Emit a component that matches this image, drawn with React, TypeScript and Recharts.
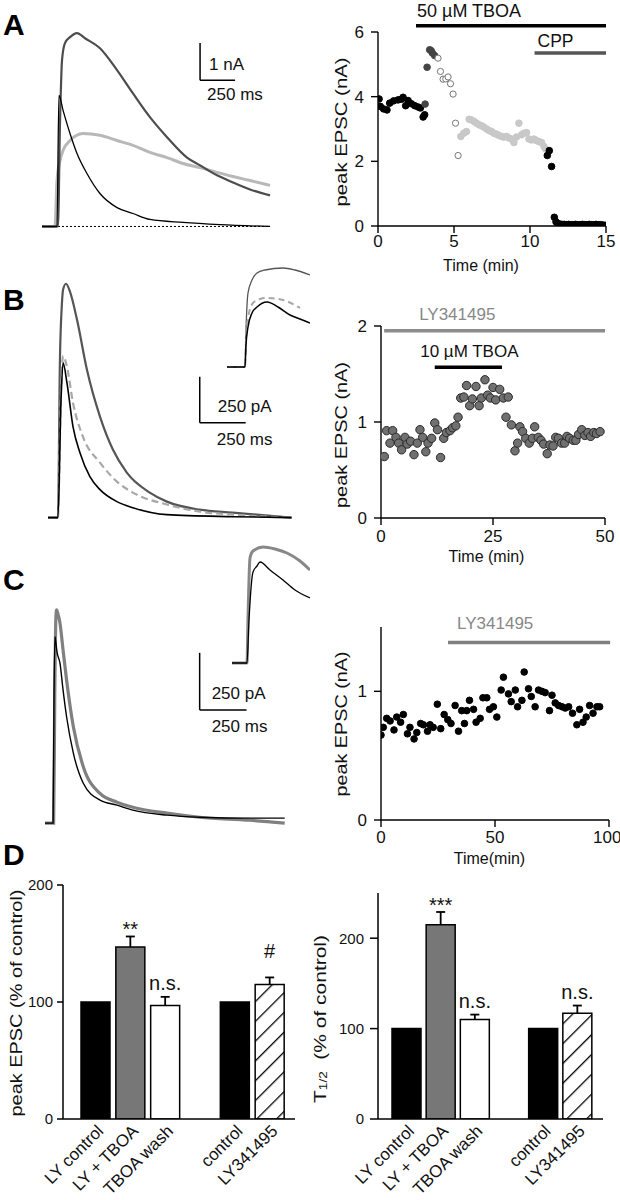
import React from 'react';
import {
  LineChart, Line, ScatterChart, Scatter, BarChart, Bar, Cell, XAxis, YAxis,
  ReferenceLine, Label, LabelList,
} from 'recharts';

const FONT = 'Arial, "Liberation Sans", Helvetica, sans-serif';
const INK = '#111';

// A: example EPSCs, [ms, nA]
const aControlTrace = [[0, 0], [107, 0], [121, 3.54], [150, 3.14], [200, 2.51], [250, 1.97], [321, 1.43], [414, 0.89], [536, 0.51], [650, 0.35], [771, 0.19], [1007, 0.11], [1271, 0.05], [1629, 0]];
const aTboaTrace = [[0, 0], [114, 0], [129, 2.86], [143, 4.49], [164, 4.95], [200, 5.11], [250, 5.22], [307, 5.08], [414, 4.81], [536, 4.22], [650, 3.59], [771, 2.95], [893, 2.41], [1036, 1.86], [1129, 1.65], [1250, 1.38], [1364, 1.19], [1486, 1.0], [1629, 0.84]];
const aLateTrace = [[0, 0], [93, 0], [107, 1.24], [129, 1.78], [150, 2.05], [200, 2.32], [293, 2.51], [414, 2.46], [536, 2.32], [650, 2.19], [771, 2.0], [893, 1.86], [1007, 1.7], [1129, 1.59], [1250, 1.46], [1364, 1.35], [1486, 1.24], [1629, 1.11]];

// A: time course, [min, nA]
const aBefore = [[0.07, 3.93], [0.15, 3.7], [0.37, 3.62], [0.59, 3.59], [0.77, 3.8], [1.03, 3.87], [1.32, 3.9], [1.54, 3.92], [1.65, 3.98], [1.82, 3.72], [1.98, 3.88], [2.2, 3.78], [2.42, 3.72], [2.64, 3.68], [2.79, 3.65], [2.97, 3.37], [3.07, 3.44]];
const aEarly = [[3.1, 3.77], [3.23, 4.91], [3.4, 5.45], [3.5, 5.42], [3.58, 5.35], [3.73, 5.27]];
const aOpen = [[3.95, 5.19], [4.11, 4.78], [4.28, 4.54], [4.46, 4.55], [4.61, 4.61], [4.77, 4.4], [4.94, 4.08], [5.1, 3.18], [5.27, 2.18]];
const aLate = [[5.45, 2.77], [5.64, 2.87], [5.82, 2.92], [6.0, 3.3], [6.15, 3.28], [6.33, 3.23], [6.48, 3.18], [6.65, 3.13], [6.81, 3.1], [6.96, 3.06], [7.14, 3.0], [7.31, 2.95], [7.47, 2.92], [7.62, 2.87], [7.8, 2.84], [7.95, 2.8], [8.13, 2.77], [8.28, 2.75], [8.46, 2.77], [8.61, 2.72], [8.79, 2.69], [8.94, 2.58], [9.11, 2.75], [9.27, 3.18], [9.44, 2.82], [9.6, 2.87], [9.77, 2.89], [9.93, 2.69], [10.1, 2.66], [10.26, 2.69], [10.43, 2.64], [10.59, 2.61], [10.76, 2.58], [10.92, 2.46], [11.03, 2.38]];
const aCpp = [[11.14, 2.18], [11.27, 2.33], [11.42, 1.84], [11.6, 0.27], [11.71, 0.13], [11.82, 0.08], [11.95, 0.06], [12.1, 0.05], [12.25, 0.05], [12.4, 0.04], [12.55, 0.05], [12.7, 0.04], [12.85, 0.04], [13.0, 0.05], [13.15, 0.04], [13.3, 0.04], [13.45, 0.05], [13.6, 0.04], [13.75, 0.04], [13.9, 0.05], [14.05, 0.04], [14.2, 0.04], [14.35, 0.05], [14.5, 0.04], [14.65, 0.04], [14.8, 0.03], [14.95, 0.02]];
const aDrugs = [{ name: '50 µM TBOA', from: 2.5, to: 15 }, { name: 'CPP', from: 10.3, to: 15 }];

// B: example EPSCs, [ms, pA]
const bControlTrace = [[0, 0], [54, 0], [71, 641], [82, 842], [103, 734], [136, 495], [174, 353], [228, 223], [283, 152], [375, 87], [462, 54], [647, 16], [1005, 5], [1326, 0]];
const bTboaTrace = [[0, 0], [54, 0], [65, 859], [76, 1168], [82, 1239], [98, 1272], [120, 1228], [158, 1076], [212, 804], [283, 549], [353, 370], [429, 245], [554, 136], [647, 87], [826, 43], [1005, 27], [1326, 0]];
const bWashTrace = [[0, 0], [54, 0], [71, 696], [82, 880], [103, 821], [136, 625], [190, 440], [283, 299], [375, 196], [462, 136], [647, 71], [826, 33], [1005, 16], [1326, 0]];
// B inset, rising phase [ms, normalised]
const bInsetControl = [[0, 0], [18, 0], [19, 0.22], [21, 0.4], [25, 0.54], [30, 0.6], [40, 0.65], [51, 0.6], [63, 0.52], [73, 0.48], [83, 0.44]];
const bInsetTboa = [[0, 0], [18, 0], [19, 0.37], [21, 0.74], [25, 0.87], [30, 0.94], [38, 0.97], [56, 0.99], [68, 0.97], [83, 0.92]];
const bInsetWash = [[0, 0], [18, 0], [19, 0.27], [21, 0.49], [26, 0.64], [33, 0.68], [40, 0.69], [56, 0.67], [73, 0.59]];

// B: time course, [min, nA]
const bCourse = [[0.74, 0.64], [1.26, 0.91], [2.0, 0.78], [2.6, 0.91], [3.34, 0.84], [3.94, 0.78], [4.6, 0.71], [5.35, 0.84], [5.87, 0.77], [6.6, 0.8], [7.36, 0.66], [8.1, 0.78], [8.7, 0.92], [9.3, 0.84], [10.0, 0.69], [10.5, 0.78], [11.3, 0.83], [12.0, 0.99], [12.6, 0.92], [13.3, 0.63], [14.0, 0.83], [14.6, 0.89], [15.4, 0.91], [16.0, 0.94], [16.7, 0.96], [17.2, 1.05], [17.8, 1.25], [18.5, 1.26], [19.1, 1.38], [19.8, 1.17], [20.4, 1.24], [21.2, 1.37], [21.9, 1.17], [22.4, 1.25], [23.2, 1.44], [23.8, 1.28], [24.4, 1.25], [25.0, 1.36], [25.6, 1.23], [26.5, 1.34], [27.3, 1.25], [27.9, 1.05], [28.4, 1.26], [29.1, 0.97], [29.9, 0.7], [30.5, 0.78], [31.0, 0.95], [31.6, 0.9], [32.3, 0.83], [33.1, 0.78], [33.8, 0.83], [34.3, 0.95], [35.1, 0.84], [35.7, 0.81], [36.3, 0.77], [37.1, 0.67], [37.7, 0.76], [38.4, 0.75], [39.0, 0.84], [39.6, 0.83], [40.3, 0.78], [41.0, 0.78], [41.5, 0.85], [42.1, 0.83], [42.9, 0.81], [43.5, 0.81], [44.1, 0.87], [44.8, 0.92], [45.5, 0.86], [46.2, 0.89], [46.8, 0.85], [47.5, 0.89], [48.1, 0.88], [48.9, 0.9]];
const bDrugs = [{ name: 'LY341495', from: 0.7, to: 50 }, { name: '10 µM TBOA', from: 12, to: 27 }];

// C: example EPSCs, [ms, pA]
const cControlTrace = [[0, 0], [43, 0], [48, 560], [53, 817], [58, 790], [64, 750], [80, 700], [96, 585], [115, 466], [151, 307], [204, 175], [293, 101], [383, 79], [468, 57], [649, 35], [824, 26], [1090, 22], [1277, 22]];
const cLyTrace = [[0, 0], [46, 0], [52, 560], [58, 900], [62, 934], [68, 920], [80, 876], [96, 760], [115, 627], [151, 422], [204, 247], [293, 130], [383, 92], [468, 70], [649, 44], [824, 26], [1090, 13], [1277, 0]];
const cInsetControl = [[0, 0], [15, 0], [17, 0.43], [21, 0.91], [25, 0.97], [28, 1.01], [38, 0.93], [51, 0.83], [63, 0.73], [78, 0.65]];
const cInsetLy = [[0, 0], [15, 0], [16, 0.45], [18, 1.05], [21, 1.12], [31, 1.16], [43, 1.14], [55, 1.1], [68, 1.02], [78, 0.93]];

// C: time course, [min, nA]
const cCourse = [[0, 0.66], [1.0, 0.72], [2.5, 0.79], [4, 0.77], [5.7, 0.7], [6.9, 0.8], [8.6, 0.76], [9.8, 0.82], [11.6, 0.67], [12.7, 0.72], [14.5, 0.63], [15.7, 0.68], [17.4, 0.75], [18.6, 0.74], [20.4, 0.69], [21.5, 0.74], [22.9, 0.72], [24.7, 0.9], [26.2, 0.71], [27.7, 0.82], [29.3, 0.78], [30.7, 0.75], [32.5, 0.89], [34.0, 0.69], [35.4, 0.85], [36.6, 0.75], [37.6, 0.85], [38.8, 0.93], [40.6, 0.86], [41.7, 0.76], [43.5, 0.79], [44.7, 0.95], [46.4, 0.95], [47.6, 0.86], [49.3, 0.88], [50.8, 0.8], [52.7, 1.01], [53.7, 1.11], [55.9, 0.98], [57.1, 0.92], [58.9, 1.01], [59.9, 0.88], [61.8, 0.93], [62.8, 1.15], [64.7, 1.02], [65.9, 0.96], [67.6, 0.88], [69.1, 1.01], [70.6, 1.0], [72.0, 0.99], [73.9, 0.85], [75.0, 0.97], [76.4, 0.91], [77.9, 0.89], [79.4, 0.88], [80.8, 0.87], [82.3, 0.88], [84.0, 0.83], [85.9, 0.74], [87.1, 0.86], [88.6, 0.76], [90.0, 0.8], [91.5, 0.89], [93.0, 0.83], [94.7, 0.88], [95.9, 0.88]];
const cDrugs = [{ name: 'LY341495', from: 29.4, to: 100.5 }];

// D: summary bars (% of control)
const dGroups = ['LY control', 'LY + TBOA', 'TBOA wash', '', 'control', 'LY341495'];
const dPeakMean = [100, 147, 97, null, 100, 115];
const dPeakSem = [0, 9, 7.4, null, 0, 6];
const dPeakSig = ['', '**', 'n.s.', '', '', '#'];
const dHalfMean = [100, 215, 110, null, 100, 117];
const dHalfSem = [0, 14, 5.5, null, 0, 8.5];
const dHalfSig = ['', '***', 'n.s.', '', '', 'n.s.'];

const pts = (arr: number[][]) => arr.map(([x, y]) => ({ x, y }));
const AX = { stroke: '#000', strokeWidth: 1.4 };

const Box = ({ l, t, w, h, children }: any) => (
  <div style={{ position: 'absolute', left: l, top: t, width: w, height: h }}>{children}</div>
);

// text placed relative to a reference line's box
const At = (text: string, place: (vb: any) => [number, number], style: any = {}) => (p: any) => {
  const vb = p.viewBox ?? p;
  const [x, y] = place(vb);
  return (
    <text x={x} y={y} fontSize={style.size ?? 17} fill={style.fill ?? INK} textAnchor={style.anchor ?? 'start'} fontFamily={FONT}>
      {text}
    </text>
  );
};

const VTitle = (text: React.ReactNode, cx: number, cy: number, len: number) => () => (
  <text transform={`translate(${cx},${cy}) rotate(-90)`} textAnchor="middle" dominantBaseline="central"
    fontSize={17} fill={INK} fontFamily={FONT} textLength={len} lengthAdjust="spacingAndGlyphs">
    {text}
  </text>
);

const Dot = (r: number, fill: string, stroke: string, sw = 1) => (p: any) => (
  <circle cx={p.cx} cy={p.cy} r={r} fill={fill} stroke={stroke} strokeWidth={sw} />
);

function TracePanel({ l, t, w, h, xMax, yDomain, lines, children }: any) {
  return (
    <Box l={l} t={t} w={w} h={h}>
      <LineChart width={w} height={h} margin={{ top: 0, right: 0, bottom: 0, left: 0 }}>
        <XAxis type="number" dataKey="x" domain={[0, xMax]} hide allowDataOverflow />
        <YAxis type="number" domain={yDomain} hide allowDataOverflow />
        {children}
        {lines.map((ln: any, i: number) => (
          <Line key={i} data={pts(ln.data)} dataKey="y" type="monotone" stroke={ln.color} strokeWidth={ln.width}
            strokeDasharray={ln.dash} dot={false} isAnimationActive={false} />
        ))}
      </LineChart>
    </Box>
  );
}

function scaleBar(t0: number, a0: number, dt: number, da: number, ampText: string, ampPlace: any, msPlace: any) {
  return [
    <ReferenceLine key="sv" segment={[{ x: t0, y: a0 }, { x: t0, y: a0 + da }]} stroke="#000" strokeWidth={1.5}
      ifOverflow="visible" label={At(ampText, ampPlace)} />,
    <ReferenceLine key="sh" segment={[{ x: t0, y: a0 }, { x: t0 + dt, y: a0 }]} stroke="#000" strokeWidth={1.5}
      ifOverflow="visible" label={At('250 ms', msPlace)} />,
  ];
}

function Course({ l, t, w, h, margin, xAxisH, xMax, xTicks, yMax, yTicks, xTickMargin, xTitle, xTitlePos, yTitlePos, series, drugs }: any) {
  return (
    <Box l={l} t={t} w={w} h={h}>
      <ScatterChart width={w} height={h} margin={{ ...margin, bottom: 0 }}>
        <XAxis type="number" dataKey="x" domain={[0, xMax]} ticks={xTicks} height={xAxisH} tickSize={7}
          tickMargin={xTickMargin} tick={{ fontSize: 17, fill: INK }} axisLine={AX} tickLine={AX} allowDataOverflow>
          <Label content={() => (
            <text x={xTitlePos[0]} y={xTitlePos[1]} textAnchor="middle" fontSize={16} fill={INK} fontFamily={FONT}>{xTitle}</text>
          )} />
        </XAxis>
        <YAxis type="number" dataKey="y" domain={[0, yMax]} ticks={yTicks} width={30} tickSize={7} tickMargin={7}
          tick={{ fontSize: 17, fill: INK }} axisLine={AX} tickLine={AX} allowDataOverflow>
          <Label content={VTitle('peak EPSC (nA)', yTitlePos[0], yTitlePos[1], yTitlePos[2])} />
        </YAxis>
        {drugs.map((d: any, i: number) => (
          <ReferenceLine key={'d' + i} segment={[{ x: d.from, y: d.level }, { x: d.to, y: d.level }]}
            stroke={d.color} strokeWidth={3.5} ifOverflow="visible"
            label={At(d.name, d.place, { fill: d.textColor ?? INK, anchor: d.anchor, size: d.size })} />
        ))}
        {series.map((s: any, i: number) => (
          <Scatter key={i} data={pts(s.data)} dataKey="y" shape={s.shape} isAnimationActive={false} />
        ))}
      </ScatterChart>
    </Box>
  );
}

const CatTick = (p: any) => (
  <text transform={`translate(${p.x + 9},${p.y + 5}) rotate(-45)`} textAnchor="end" fontSize={17} fill={INK} fontFamily={FONT}>
    {p.payload.value}
  </text>
);

const Whisker = (p: any) => {
  if (!p.height || p.height <= 0) return null;
  const cx = p.x + p.width / 2;
  return (
    <g>
      <line x1={cx} x2={cx} y1={p.y + p.height} y2={p.y} stroke="#000" strokeWidth={1.8} />
      <line x1={cx - 4.5} x2={cx + 4.5} y1={p.y} y2={p.y} stroke="#000" strokeWidth={1.8} />
    </g>
  );
};

const sigLift: Record<string, number> = { '**': 0, '***': 0, 'n.s.': 7, '#': 19 };
const SigText = (p: any) => {
  if (!p.value) return null;
  const vb = p.viewBox ?? p;
  return (
    <text x={vb.x + vb.width / 2} y={vb.y - (sigLift[p.value] ?? 4)} textAnchor="middle" fontSize={20} fill={INK} fontFamily={FONT}>
      {p.value}
    </text>
  );
};

function Summary({ l, mean, sem, sig, yMax, margin, padding, tickSize, tickMargin, hatchId, title }: any) {
  const data = dGroups.map((name, i) => ({ name, mean: mean[i], sem: sem[i], sig: sig[i] }));
  const fills = ['#000', '#777', '#fff', 'none', '#000', `url(#${hatchId})`];
  return (
    <Box l={l} t={860} w={310} h={340}>
      <BarChart width={310} height={340} data={data} margin={margin}>
        <defs>
          <pattern id={hatchId} width="14" height="14" patternUnits="userSpaceOnUse" patternTransform="rotate(45)">
            <rect width="14" height="14" fill="#fff" />
            <line x1="0" y1="0" x2="0" y2="14" stroke="#000" strokeWidth="2.6" />
          </pattern>
        </defs>
        <XAxis dataKey="name" type="category" interval={0} tickLine={false} height={81} padding={padding}
          axisLine={{ stroke: '#000', strokeWidth: 1.5 }} tick={CatTick} />
        <YAxis type="number" domain={[0, yMax]} ticks={[0, 100, 200]} width={40} tickSize={tickSize} tickMargin={tickMargin}
          tick={{ fontSize: 15, fill: INK }} axisLine={{ stroke: '#000', strokeWidth: 1.5 }}
          tickLine={{ stroke: '#000', strokeWidth: 1.5 }} allowDataOverflow>
          <Label content={title} />
        </YAxis>
        <Bar dataKey="mean" stackId="s" barSize={29} stroke="#000" strokeWidth={1.5} isAnimationActive={false}>
          {data.map((_, i) => <Cell key={i} fill={fills[i]} />)}
        </Bar>
        <Bar dataKey="sem" stackId="s" barSize={29} shape={Whisker} isAnimationActive={false}>
          <LabelList dataKey="sig" content={SigText} />
        </Bar>
      </BarChart>
    </Box>
  );
}

export default function App() {
  return (
    <div style={{ position: 'absolute', left: 0, top: 0, width: 620, height: 1200, background: '#fff', fontFamily: FONT, overflow: 'hidden' }}>
      {/* A traces */}
      <TracePanel l={42} t={19} w={231} h={226} xMax={1650} yDomain={[-0.5, 5.6]}
        lines={[
          { data: aLateTrace, color: '#b8b8b8', width: 3 },
          { data: aTboaTrace, color: '#4d4d4d', width: 2.2 },
          { data: aControlTrace, color: '#000', width: 1.3 },
        ]}>
        <ReferenceLine segment={[{ x: 0, y: 0 }, { x: 1629, y: 0 }]} stroke="#000" strokeWidth={1} strokeDasharray="2 2" />
        {scaleBar(1129, 3.95, 250, 1, '1 nA',
          (vb: any) => [vb.x + 9, vb.y + vb.height - 10],
          (vb: any) => [vb.x + 7, vb.y + 20])}
      </TracePanel>

      <Course l={320} t={0} w={300} h={280} margin={{ top: 32, right: 14, left: 28 }} xAxisH={54}
        xMax={15} xTicks={[0, 5, 10, 15]} yMax={6} yTicks={[0, 2, 4, 6]} xTickMargin={2}
        xTitle="Time (min)" xTitlePos={[161, 270.5]} yTitlePos={[21, 132, 149]}
        drugs={[
          { ...aDrugs[0], level: 6.19, color: '#000', size: 18, place: (vb: any) => [vb.x + 1, vb.y - 8.5] },
          { ...aDrugs[1], level: 5.35, color: '#555', size: 17.5, place: (vb: any) => [vb.x + 3, vb.y - 6.5] },
        ]}
        series={[
          { data: aBefore, shape: Dot(3.3, '#000', '#000') },
          { data: aEarly, shape: Dot(3.3, '#454545', '#454545') },
          { data: aOpen, shape: Dot(3.1, '#fff', '#777', 1) },
          { data: aLate, shape: Dot(3.3, '#c8c8c8', '#c8c8c8') },
          { data: aCpp, shape: Dot(3.3, '#000', '#000') },
        ]} />

      {/* B traces */}
      <TracePanel l={48} t={251} w={248} h={285} xMax={1350} yDomain={[-100, 1450]}
        lines={[
          { data: bTboaTrace, color: '#555', width: 2.2 },
          { data: bWashTrace, color: '#a8a8a8', width: 2.2, dash: '7 4' },
          { data: bControlTrace, color: '#000', width: 1.6 },
        ]}>
        {scaleBar(826, 516, 250, 250, '250 pA',
          (vb: any) => [vb.x + 18, vb.y + vb.height - 11],
          (vb: any) => [vb.x + 17, vb.y + 22])}
      </TracePanel>
      <TracePanel l={227} t={260} w={83} h={110} xMax={83} yDomain={[-0.03, 1.07]}
        lines={[
          { data: bInsetTboa, color: '#555', width: 1.3 },
          { data: bInsetWash, color: '#a8a8a8', width: 2, dash: '6 4' },
          { data: bInsetControl, color: '#000', width: 1.5 },
        ]} />

      <Course l={320} t={260} w={300} h={310} margin={{ top: 66, right: 15, left: 31 }} xAxisH={52}
        xMax={50} xTicks={[0, 25, 50]} yMax={2} yTicks={[0, 1, 2]} xTickMargin={5}
        xTitle="Time (min)" xTitlePos={[166.5, 301.5]} yTitlePos={[21, 175, 146]}
        drugs={[
          { ...bDrugs[0], level: 1.95, color: '#8c8c8c', textColor: '#888', place: (vb: any) => [vb.x + 35, vb.y - 10.7] },
          { ...bDrugs[1], level: 1.57, color: '#000', anchor: 'middle', place: (vb: any) => [vb.x + vb.width / 2 + 1, vb.y - 10] },
        ]}
        series={[{ data: bCourse, shape: Dot(4.2, '#707070', '#2a2a2a', 1) }]} />

      {/* C traces */}
      <TracePanel l={45} t={572} w={244} h={274} xMax={1300} yDomain={[-100, 1100]}
        lines={[
          { data: cLyTrace, color: '#808080', width: 3.2 },
          { data: cControlTrace, color: '#000', width: 1.4 },
        ]}>
        {scaleBar(824, 496, 250, 250, '250 pA',
          (vb: any) => [vb.x + 12, vb.y + vb.height - 11],
          (vb: any) => [vb.x + 12, vb.y + 22])}
      </TracePanel>
      <TracePanel l={232} t={540} w={78} h={130} xMax={78} yDomain={[-0.07, 1.23]}
        lines={[
          { data: cInsetLy, color: '#888', width: 3 },
          { data: cInsetControl, color: '#000', width: 1.3 },
        ]} />

      <Course l={320} t={580} w={300} h={290} margin={{ top: 47, right: 11, left: 31 }} xAxisH={50}
        xMax={100} xTicks={[0, 50, 100]} yMax={1.5} yTicks={[0, 1]} xTickMargin={4}
        xTitle="Time(min)" xTitlePos={[169.5, 284]} yTitlePos={[21, 144, 145]}
        drugs={[{ ...cDrugs[0], level: 1.38, color: '#7f7f7f', textColor: '#888', place: (vb: any) => [vb.x + 9, vb.y - 13] }]}
        series={[{ data: cCourse, shape: Dot(3.3, '#000', '#000') }]} />

      {/* D summaries */}
      <Summary l={0} mean={dPeakMean} sem={dPeakSem} sig={dPeakSig} yMax={200}
        margin={{ top: 25, right: 15, left: 23, bottom: 0 }} padding={{ left: 15, right: 8 }}
        tickSize={6} tickMargin={4} hatchId="hatchPeak"
        title={VTitle('peak EPSC (% of control)', 16, 143, 227)} />
      <Summary l={310} mean={dHalfMean} sem={dHalfSem} sig={dHalfSig} yMax={250}
        margin={{ top: 33, right: 17, left: 28, bottom: 0 }} padding={{ left: 11, right: 9 }}
        tickSize={8} tickMargin={6} hatchId="hatchHalf"
        title={VTitle(
          <>T<tspan fontSize={11} dy={3}>1/2</tspan><tspan dy={-3}>{'\u00a0\u00a0(% of control)'}</tspan></>,
          10, 159, 168)} />

      <svg width={620} height={1200} style={{ position: 'absolute', left: 0, top: 0, pointerEvents: 'none' }}>
        {[['A', 35], ['B', 310], ['C', 590], ['D', 865]].map(([s, y]) => (
          <text key={s as string} x={3} y={y as number} fontSize={30} fontWeight="bold" fill="#000" fontFamily={FONT}>{s}</text>
        ))}
      </svg>
    </div>
  );
}
